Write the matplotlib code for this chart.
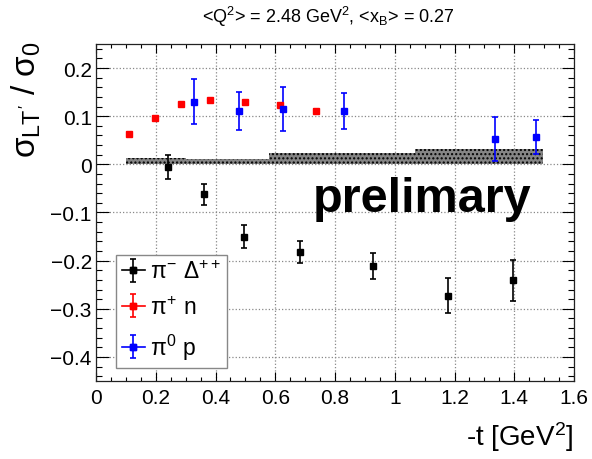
import matplotlib
matplotlib.use("Agg")
import matplotlib.pyplot as plt
from matplotlib.lines import Line2D
from matplotlib.legend_handler import HandlerTuple
from matplotlib.ticker import MultipleLocator, FormatStrFormatter
import numpy as np

plt.rcParams["font.family"] = ["Liberation Sans", "DejaVu Sans"]
plt.rcParams["mathtext.fontset"] = "custom"
plt.rcParams["mathtext.rm"] = "Liberation Sans"
plt.rcParams["mathtext.it"] = "Liberation Sans"
plt.rcParams["mathtext.bf"] = "Liberation Sans:bold"

# pi- Delta++
t_pim = [0.242, 0.360, 0.495, 0.684, 0.928, 1.178, 1.395]
a_pim = [-0.005, -0.062, -0.150, -0.182, -0.211, -0.273, -0.241]
e_pim = [0.025, 0.022, 0.023, 0.023, 0.027, 0.036, 0.042]

# pi+ n
t_pip = [0.112, 0.199, 0.283, 0.382, 0.498, 0.617, 0.736]
a_pip = [0.063, 0.096, 0.125, 0.133, 0.129, 0.123, 0.110]
e_pip = [0.002, 0.002, 0.002, 0.002, 0.004, 0.004, 0.004]

# pi0 p
t_pi0 = [0.327, 0.480, 0.626, 0.831, 1.337, 1.473]
a_pi0 = [0.130, 0.111, 0.115, 0.111, 0.053, 0.057]
e_pi0 = [0.047, 0.040, 0.045, 0.038, 0.046, 0.036]

# systematic band
sys_edges = [0.10, 0.30, 0.417, 0.58, 1.069, 1.497]
sys_vals = [0.014, 0.011, 0.012, 0.023, 0.031]

fig = plt.figure(figsize=(5.92, 4.60), dpi=100)
ax = fig.add_axes([0.1622, 0.1696, 0.8074, 0.7326])

ax.set_xlim(0, 1.6)
ax.set_ylim(-0.45, 0.25)

ax.grid(True, which="major", linestyle=":", color="#888888", lw=0.9)
ax.set_axisbelow(True)

# band as steps
xs = np.array(sys_edges)
ys = np.array(sys_vals + [sys_vals[-1]])
ax.fill_between(xs, 0, ys, step="post", facecolor="#858585", edgecolor="none",
                hatch="....", zorder=2)

kw = dict(fmt="s", linestyle="none", capsize=2.5, elinewidth=1.2, capthick=1.2,
          zorder=3)
h1 = ax.errorbar(t_pim, a_pim, yerr=e_pim, color="black", ms=4.5, **kw)
h2 = ax.errorbar(t_pip, a_pip, yerr=e_pip, color="red", ms=4.3, **kw)
h3 = ax.errorbar(t_pi0, a_pi0, yerr=e_pi0, color="blue", ms=4.8, **kw)

ax.xaxis.set_major_locator(MultipleLocator(0.2))
ax.xaxis.set_minor_locator(MultipleLocator(0.05))
ax.yaxis.set_major_locator(MultipleLocator(0.1))
ax.yaxis.set_minor_locator(MultipleLocator(0.02))
ax.xaxis.set_major_formatter(FormatStrFormatter("%g"))
ax.yaxis.set_major_formatter(plt.FuncFormatter(
    lambda v, p: ("%g" % round(v, 2)).replace("-", "\u2212")))
ax.tick_params(which="both", direction="in", top=True, right=True,
               labelsize=15, width=0.8)
ax.tick_params(axis="x", which="major", length=6.5, pad=5)
ax.tick_params(axis="x", which="minor", length=3.2)
ax.tick_params(axis="y", which="major", length=9, pad=3)
ax.tick_params(axis="y", which="minor", length=4.3)
for s in ax.spines.values():
    s.set_linewidth(0.9)
    s.set_color("#222222")

ax.text(0.726, -0.097, "prelimary", fontsize=35, fontweight="bold",
        ha="left", va="baseline", zorder=4)

fig.text(0.555, 1 - 17 / 460, r"<Q$^{2}$> = 2.48 GeV$^{2}$, <x$_{B}$> = 0.27",
         ha="center", va="center", fontsize=13)
fig.text(0.969, 1 - 437 / 460, r"-t [GeV$^{2}$]", ha="right", va="center",
         fontsize=20)
fig.text(26 / 592, 1 - 100 / 460, r"$\sigma_{LT'}$ / $\sigma_{0}$",
         rotation=90, ha="center", va="center", fontsize=24)

def hbar(c):
    return Line2D([], [], color=c, marker="s", lw=1.2, ms=4.5)

leg = ax.legend([(h1, hbar("black")), (h2, hbar("red")), (h3, hbar("blue"))],
                [r"$\pi^{-}$ $\Delta^{++}$", r"$\pi^{+}$ n", r"$\pi^{0}$ p"],
                handler_map={tuple: HandlerTuple(ndivide=1)},
                loc="lower left", bbox_to_anchor=(0.042, 0.04), fontsize=16.5,
                frameon=True, fancybox=False, framealpha=1,
                edgecolor="#888888", handlelength=1.0, handletextpad=0.25,
                borderpad=0.25, labelspacing=0.55, borderaxespad=0)
leg.get_frame().set_linewidth(1.0)

fig.savefig("out.png", dpi=100)
